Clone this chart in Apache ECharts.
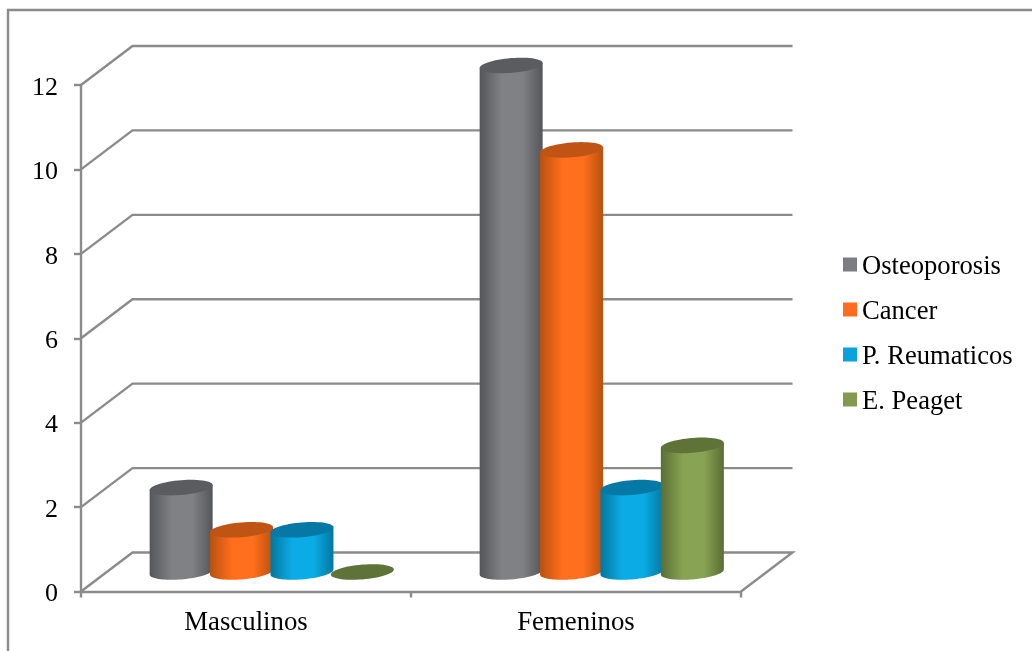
<!DOCTYPE html>
<html>
<head>
<meta charset="utf-8">
<style>html,body{margin:0;padding:0;background:#fff}#chart{width:1032px;height:651px}</style>
<script src="https://cdn.jsdelivr.net/npm/echarts@6/dist/echarts.min.js"></script>
</head>
<body>
<div id="chart"></div>
<script>
// Values per patient group
const categories = ['Masculinos', 'Femeninos'];
const osteoporosis = [2, 12];
const cancer = [1, 10];
const reumaticos = [1, 2];
const peaget = [0, 3];
const yTicks = [0, 2, 4, 6, 8, 10, 12];

const seriesNames = ['Osteoporosis', 'Cancer', 'P. Reumaticos', 'E. Peaget'];
const seriesValues = [osteoporosis, cancer, reumaticos, peaget];
// side shade, lit centre, top cap, legend swatch
const shades = [
  ['#55565a', '#808185', '#5b5c60', '#7c7d82'],
  ['#b9510f', '#ff6f1d', '#bf5414', '#ff6c1b'],
  ['#04779f', '#0bace6', '#0578a6', '#08a3dc'],
  ['#5a6e35', '#88a353', '#5f7339', '#82994e']
];

// Pseudo-3D box: the back wall is shifted from the front plane by this much
const depthX = 51.5, depthY = 39;
const barStep = 60.4, radiusX = 31.5, radiusY = 7.4, skew = 2.5;
const lineColor = '#8b8b8b';
const lineWidth = 2.4;
const serif = '"Liberation Serif", "Times New Roman", serif';

// Tilted ellipse outline between two parameter angles
function arc(cx, cy, from, to, steps) {
  const pts = [];
  for (let i = 0; i <= steps; i++) {
    const t = from + (to - from) * i / steps;
    pts.push([cx + radiusX * Math.cos(t), cy - skew * Math.cos(t) + radiusY * Math.sin(t)]);
  }
  return pts;
}

function cylinder(seriesIndex) {
  const colors = shades[seriesIndex];
  return function (params, api) {
    const cat = api.value(0), val = api.value(1);
    const base = api.coord([cat, 0]);
    const top = api.coord([cat, val]);
    const cx = base[0] + depthX / 2 + (seriesIndex - 1.5) * barStep;
    const by = base[1] - depthY / 2;
    const ty = top[1] - depthY / 2;
    const children = [];
    if (val > 0) {
      // right side down, round the bottom front, up the left side
      const body = [].concat(arc(cx, ty, Math.PI, 2 * Math.PI, 1).slice(0, 2),
                             arc(cx, by, 0, Math.PI, 40));
      children.push({
        type: 'polygon',
        shape: { points: body },
        style: {
          fill: {
            type: 'linear', x: 0, y: 0, x2: 1, y2: 0,
            colorStops: [
              { offset: 0, color: colors[0] },
              { offset: 0.35, color: colors[1] },
              { offset: 0.68, color: colors[1] },
              { offset: 1, color: colors[0] }
            ]
          }
        }
      });
    }
    children.push({
      type: 'polygon',
      shape: { points: arc(cx, ty, 0, 2 * Math.PI, 60) },
      style: { fill: colors[2] }
    });
    return { type: 'group', children: children };
  };
}

// Floor outline and the wall lines that run back from each tick
function renderWall(params, api) {
  const v = api.value(0);
  const sys = params.coordSys;
  const p = api.coord([0, v]);
  const x0 = sys.x, y = p[1];
  const pts = [[x0, y], [x0 + depthX, y - depthY], [x0 + depthX + sys.width, y - depthY]];
  if (v === 0) pts.push([x0 + sys.width, y]);
  return {
    type: 'polyline',
    shape: { points: pts },
    style: { stroke: lineColor, lineWidth: lineWidth, fill: null }
  };
}

const series = [{
  type: 'custom',
  silent: true,
  renderItem: renderWall,
  data: yTicks.map(v => [v]),
  encode: { y: 0 },
  z: 1
}];
seriesNames.forEach((name, i) => {
  series.push({
    name: name,
    type: 'custom',
    renderItem: cylinder(i),
    data: seriesValues[i].map((v, c) => [c, v]),
    encode: { x: 0, y: 1 },
    itemStyle: { color: shades[i][3] },
    z: 2 + i
  });
});

const chart = echarts.init(document.getElementById('chart'));
chart.setOption({
  animation: false,
  backgroundColor: '#ffffff',
  textStyle: { fontFamily: serif },
  graphic: [{
    type: 'polyline',
    shape: { points: [[8, 651], [8, 10], [1032, 10]] },
    style: { stroke: lineColor, lineWidth: lineWidth, fill: null },
    silent: true
  }],
  grid: { left: 81, right: 291, top: 85, height: 506.5, containLabel: false },
  xAxis: {
    type: 'category',
    data: categories,
    axisLine: { lineStyle: { color: lineColor, width: lineWidth } },
    axisTick: { show: true, length: 6, lineStyle: { color: lineColor, width: lineWidth } },
    axisLabel: { color: '#000', fontSize: 26.8, fontFamily: serif, margin: 18 },
    splitLine: { show: false }
  },
  yAxis: {
    type: 'value',
    min: 0,
    max: 12,
    interval: 2,
    axisLine: { show: true, lineStyle: { color: lineColor, width: lineWidth } },
    axisTick: { show: true, length: 7, lineStyle: { color: lineColor, width: lineWidth } },
    axisLabel: {
      margin: 23,
      formatter: '{t|{value}}',
      rich: { t: { color: '#000', fontSize: 26, fontFamily: serif, padding: [6, 0, 0, 0] } }
    },
    splitLine: { show: false }
  },
  legend: {
    orient: 'vertical',
    left: 843,
    top: 254,
    padding: 0,
    itemWidth: 14,
    itemHeight: 14,
    itemGap: 18,
    icon: 'rect',
    selectedMode: false,
    formatter: '{t|{name}}',
    textStyle: {
      rich: { t: { color: '#000', fontSize: 26.6, fontFamily: serif, padding: [6, 0, 0, 0] } }
    },
    data: seriesNames
  },
  series: series
});
</script>
</body>
</html>
